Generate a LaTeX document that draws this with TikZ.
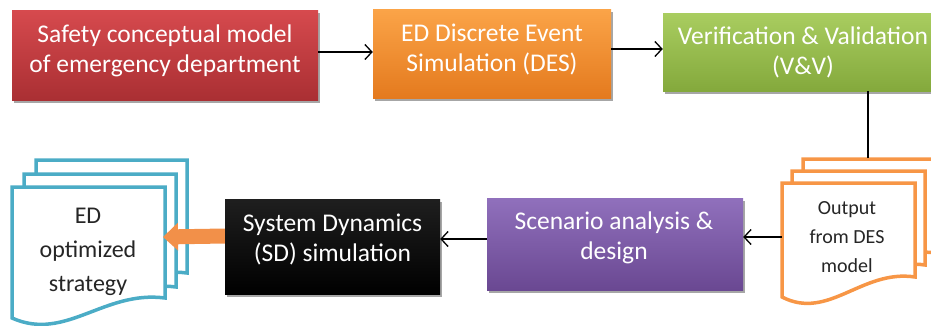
\documentclass[tikz,border=0pt]{standalone}
\usepackage{fontspec}
\setmainfont{Carlito}
\usetikzlibrary{arrows.meta,shadows,calc}
\definecolor{redT}{HTML}{D64A4E}
\definecolor{redB}{HTML}{AA2F33}
\definecolor{orT}{HTML}{FBA448}
\definecolor{orB}{HTML}{E47A1E}
\definecolor{grT}{HTML}{A9CD60}
\definecolor{grB}{HTML}{84A93C}
\definecolor{puT}{HTML}{9070BC}
\definecolor{puB}{HTML}{6A4892}
\definecolor{docOr}{HTML}{F79646}
\definecolor{docBl}{HTML}{4BACC6}
\definecolor{fatOr}{HTML}{F29049}
\definecolor{docText}{HTML}{262626}
\newcommand\docshape[5]{%
  \pgfmathsetmacro\dw{#4-#2}%
  \path[#1] (#2,#3) -- (#4,#3) -- (#4,#5)
    .. controls (#2+0.6*\dw,#5-8) and (#2+0.35*\dw,#5+44) .. (#2,#5+20) -- cycle;}
\begin{document}
\begin{tikzpicture}[x=1pt,y=-1pt,
  box/.style={rectangle, inner sep=0pt, draw=none,
    drop shadow={shadow xshift=1.5pt, shadow yshift=-2.5pt, opacity=0.35, fill=black}},
  boxtext/.style={text=white, align=center, inner sep=0pt,
    font=\fontsize{25.5}{30}\selectfont},
  doctext/.style={text=docText, align=center, inner sep=0pt},
  conn/.style={draw=black, line width=1.3pt, -{Straight Barb[length=7pt,width=15pt,line width=1.3pt]}},
  plain/.style={draw=black, line width=1.3pt},
  docor/.style={draw=docOr, fill=white, line width=3.5pt, line join=miter},
  docbl/.style={draw=docBl, fill=white, line width=3.5pt, line join=miter},
  fat/.style={draw=fatOr, line width=15pt, -{Triangle[length=15pt,width=27pt]}}
]
\useasboundingbox (0,0) rectangle (931,325);
\clip (0,0) rectangle (931,325);

% top row boxes
\node[box, top color=redT, bottom color=redB, minimum width=306pt, minimum height=90pt] (red) at (165,55) {};
\node[boxtext] (redt) at (165,51) {Safety conceptual model\\of emergency department};

\node[box, top color=orT, bottom color=orB, minimum width=238pt, minimum height=89pt] (ora) at (492,53.5) {};
\node[boxtext] (orat) at (492,49.5) {ED Discrete Event\\Simulation (DES)};

\node[box, top color=grT, bottom color=grB, minimum width=288pt, minimum height=78pt] (gre) at (807,52) {};
\node[boxtext] (gret) at (803,52) {Verification \& Validation\\(V\&V)};

% documents (orange)
\docshape{docor}{803}{159}{936}{253}
\docshape{docor}{792}{171}{925}{265}
\docshape{docor}{782}{183}{915}{277}
\coordinate (odocTop) at (868,158);
\coordinate (odocW) at (782,237);
\node[doctext, font=\fontsize{20}{29}\selectfont] (odoc) at (847,237) {Output\\from DES\\model};

% documents (blue)
\docshape{docbl}{36}{160}{187}{273}
\docshape{docbl}{24}{174}{176}{287}
\docshape{docbl}{12}{187}{165}{298}
\coordinate (bdocE) at (163,237);
\node[doctext, font=\fontsize{24}{34}\selectfont] (bdoc) at (88,252) {ED\\optimized\\strategy};

% bottom row boxes
\node[box, top color=puT, bottom color=puB, minimum width=256pt, minimum height=92pt] (pur) at (615,244) {};
\node[boxtext] (purt) at (614,238) {Scenario analysis \&\\design};

\draw[fat] (225,236) -- (bdocE);

\node[box, top color=black!88, bottom color=black, minimum width=215pt, minimum height=95pt] (blk) at (332.5,246.5) {};
\node[boxtext] (blkt) at (332.5,239) {System Dynamics\\(SD) simulation};

% connectors
\draw[conn] (red.east |- 0,52) -- (ora.west |- 0,52);
\draw[conn] (ora.east |- 0,49) -- (gre.west |- 0,49);
\draw[plain] (gre.south -| odocTop) -- (odocTop);
\draw[conn] (odocW) -- (pur.east |- odocW);
\draw[conn] (pur.west |- 0,239) -- (blk.east |- 0,239);
\end{tikzpicture}
\end{document}
